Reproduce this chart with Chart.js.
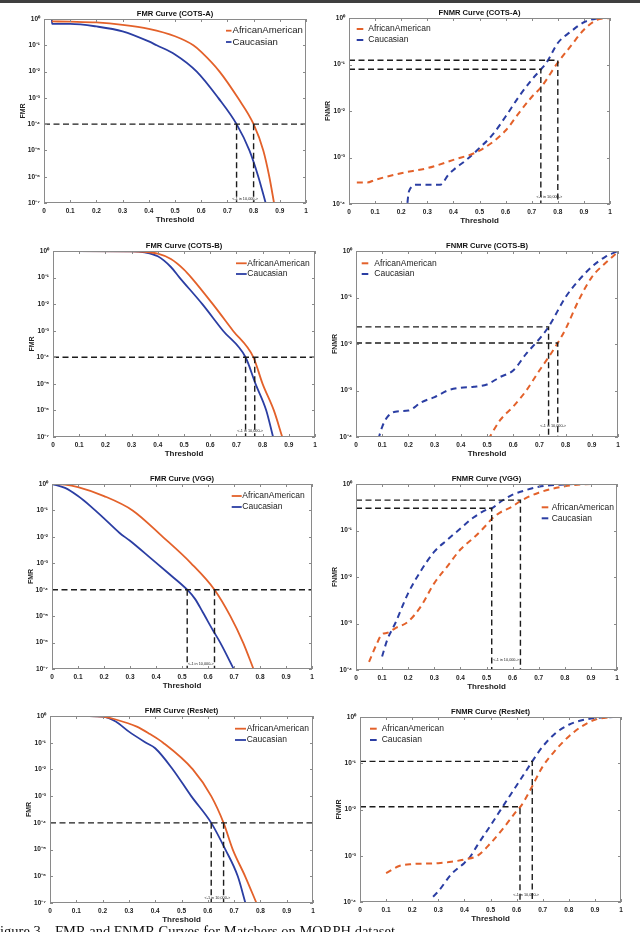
<!DOCTYPE html>
<html>
<head>
<meta charset="utf-8">
<script src="https://cdn.jsdelivr.net/npm/chart.js@4.4.1/dist/chart.umd.min.js"></script>
<style>
  html, body { margin: 0; padding: 0; background: #fff; }
  body { width: 640px; height: 932px; position: relative; overflow: hidden; }
  #topbar { position: absolute; left: 0; top: 0; width: 640px; height: 3px; background: #3f3f3f; }
  canvas { position: absolute; }
  .caption { position: absolute; top: 923px; font-family: "Liberation Serif", "Times New Roman", serif; font-size: 14.5px; line-height: 16px; color: #111; white-space: nowrap; }
</style>
</head>
<body>
<div id="topbar"></div>
<canvas id="c0"></canvas>
<canvas id="c1"></canvas>
<canvas id="c2"></canvas>
<canvas id="c3"></canvas>
<canvas id="c4"></canvas>
<canvas id="c5"></canvas>
<canvas id="c6"></canvas>
<canvas id="c7"></canvas>
<div class="caption" style="left:-8px">Figure 3.</div>
<div class="caption" style="left:55px">FMR and FNMR Curves for Matchers on MORPH dataset</div>
<script>
// ---- data ----
const seriesNames = ["AfricanAmerican", "Caucasian"];
const chartTitles = ["FMR Curve (COTS-A)", "FNMR Curve (COTS-A)", "FMR Curve (COTS-B)", "FNMR Curve (COTS-B)",
  "FMR Curve (VGG)", "FNMR Curve (VGG)", "FMR Curve (ResNet)", "FNMR Curve (ResNet)"];
const xTicks = [0, 0.1, 0.2, 0.3, 0.4, 0.5, 0.6, 0.7, 0.8, 0.9, 1];
const xTickLabels = ["0", "0.1", "0.2", "0.3", "0.4", "0.5", "0.6", "0.7", "0.8", "0.9", "1"];
const fmrTicks = [1e-7, 1e-6, 1e-5, 1e-4, 1e-3, 1e-2, 1e-1, 1];
const fmrTickLabels = ["10⁻⁷", "10⁻⁶", "10⁻⁵", "10⁻⁴", "10⁻³", "10⁻²", "10⁻¹", "10⁰"];
const fnmrTicks = [1e-4, 1e-3, 1e-2, 1e-1, 1];
const fnmrTickLabels = ["10⁻⁴", "10⁻³", "10⁻²", "10⁻¹", "10⁰"];
const fmrTarget = 1e-4;
const opNote = "<-1 in 10,000->";

// COTS-A
const cotsA_fmr_aa_t = [0.03, 0.1, 0.2, 0.3, 0.4, 0.5, 0.57, 0.6, 0.67, 0.74, 0.8, 0.837, 0.86, 0.878];
const cotsA_fmr_aa = [0.81, 0.79, 0.74, 0.6, 0.42, 0.22, 0.1, 0.056, 1e-2, 1e-3, 1e-4, 1e-5, 1e-6, 1e-7];
const cotsA_fmr_ca_t = [0.03, 0.031, 0.1, 0.2, 0.3, 0.4, 0.43, 0.5, 0.583, 0.665, 0.735, 0.784, 0.818, 0.846];
const cotsA_fmr_ca = [1, 0.66, 0.65, 0.52, 0.34, 0.14, 0.1, 0.045, 1e-2, 1e-3, 1e-4, 1e-5, 1e-6, 1e-7];
const cotsA_fmr_op_t = [0.735, 0.80];
const cotsA_fnmr_aa_t = [0.03, 0.07, 0.1, 0.2, 0.3, 0.4, 0.5, 0.6, 0.65, 0.7, 0.735, 0.8, 0.85, 0.9, 0.95, 1.0];
const cotsA_fnmr_aa = [2.9e-4, 2.9e-4, 3.3e-4, 4.6e-4, 5.9e-4, 8.9e-4, 1.4e-3, 3.8e-3, 8.9e-3, 0.02, 0.032, 0.11, 0.25, 0.56, 0.91, 1];
const cotsA_fnmr_ca_t = [0.22, 0.23, 0.26, 0.35, 0.38, 0.4, 0.45, 0.5, 0.55, 0.6, 0.65, 0.7, 0.735, 0.76, 0.8, 0.85, 0.9, 0.95, 0.97];
const cotsA_fnmr_ca = [6.3e-5, 1.9e-4, 2.6e-4, 2.6e-4, 4.2e-4, 5.4e-4, 8.9e-4, 1.6e-3, 3.1e-3, 7.6e-3, 0.02, 0.047, 0.078, 0.117, 0.29, 0.51, 0.81, 0.98, 1];
const cotsA_fnmr_op_t = [0.735, 0.80];
const cotsA_fnmr_op_v = [0.079, 0.123];

// COTS-B
const cotsB_fmr_aa_t = [0.04, 0.3, 0.35, 0.4, 0.45, 0.5, 0.528, 0.61, 0.687, 0.765, 0.80, 0.843, 0.875];
const cotsB_fmr_aa = [1, 0.98, 0.93, 0.79, 0.5, 0.2, 0.1, 1e-2, 1e-3, 1e-4, 1e-5, 1e-6, 1e-7];
const cotsB_fmr_ca_t = [0.04, 0.3, 0.35, 0.4, 0.45, 0.483, 0.57, 0.649, 0.735, 0.773, 0.814, 0.84];
const cotsB_fmr_ca = [1, 0.98, 0.89, 0.63, 0.25, 0.1, 1e-2, 1e-3, 1e-4, 1e-5, 1e-6, 1e-7];
const cotsB_fmr_op_t = [0.735, 0.77];
const cotsB_fnmr_aa_t = [0.505, 0.55, 0.6, 0.65, 0.7, 0.735, 0.77, 0.8, 0.85, 0.9, 0.95, 1.0];
const cotsB_fnmr_aa = [8.9e-5, 2.3e-4, 4.5e-4, 1e-3, 2.7e-3, 5.2e-3, 0.0105, 0.021, 0.087, 0.275, 0.537, 0.955];
const cotsB_fnmr_ca_t = [0.085, 0.1, 0.12, 0.15, 0.2, 0.25, 0.3, 0.35, 0.4, 0.45, 0.5, 0.55, 0.6, 0.65, 0.7, 0.735, 0.8, 0.85, 0.9, 0.95, 1.0];
const cotsB_fnmr_ca = [8.9e-5, 1.66e-4, 2.7e-4, 3.5e-4, 3.7e-4, 5.6e-4, 7.2e-4, 1e-3, 1.15e-3, 1.2e-3, 1.35e-3, 1.95e-3, 2.7e-3, 6.2e-3, 0.0129, 0.0234, 0.102, 0.234, 0.457, 0.741, 1];
const cotsB_fnmr_op_t = [0.735, 0.77];
const cotsB_fnmr_op_v = [0.0234, 0.0105];

// VGG
const vgg_fmr_aa_t = [0, 0.05, 0.1, 0.2, 0.31, 0.426, 0.535, 0.625, 0.686, 0.735, 0.775];
const vgg_fmr_aa = [1, 0.95, 0.76, 0.35, 0.1, 0.01, 1e-3, 1e-4, 1e-5, 1e-6, 1e-7];
const vgg_fmr_ca_t = [0, 0.05, 0.1, 0.15, 0.2, 0.26, 0.3, 0.385, 0.45, 0.52, 0.55, 0.58, 0.62, 0.647, 0.699];
const vgg_fmr_ca = [1, 0.71, 0.35, 0.14, 0.05, 0.014, 7.1e-3, 1.4e-3, 4e-4, 1e-4, 4.5e-5, 1.4e-5, 2.8e-6, 1e-6, 1e-7];
const vgg_fmr_op_t = [0.52, 0.625];
const vgg_fnmr_aa_t = [0.05, 0.08, 0.1, 0.12, 0.15, 0.2, 0.25, 0.3, 0.35, 0.4, 0.45, 0.5, 0.52, 0.55, 0.6, 0.63, 0.7, 0.8, 0.9, 0.95];
const vgg_fnmr_aa = [1.5e-4, 3.7e-4, 5.9e-4, 6.3e-4, 7.9e-4, 1.1e-3, 2.4e-3, 7.4e-3, 0.017, 0.039, 0.069, 0.132, 0.178, 0.24, 0.33, 0.43, 0.65, 0.89, 1, 1];
const vgg_fnmr_ca_t = [0.1, 0.12, 0.15, 0.2, 0.25, 0.3, 0.35, 0.4, 0.45, 0.5, 0.52, 0.55, 0.6, 0.63, 0.7, 0.8, 0.85];
const vgg_fnmr_ca = [1.95e-4, 4.5e-4, 1e-3, 4.5e-3, 0.014, 0.035, 0.063, 0.11, 0.19, 0.28, 0.30, 0.4, 0.59, 0.68, 0.87, 0.98, 1];
const vgg_fnmr_op_t = [0.52, 0.63];
const vgg_fnmr_op_v = [0.30, 0.45];

// ResNet
const res_fmr_aa_t = [0, 0.15, 0.2, 0.25, 0.33, 0.38, 0.43, 0.543, 0.613, 0.66, 0.695, 0.742, 0.785];
const res_fmr_aa = [1, 1, 0.95, 0.74, 0.4, 0.21, 0.1, 0.01, 1e-3, 1e-4, 1e-5, 1e-6, 1e-7];
const res_fmr_ca_t = [0, 0.15, 0.2, 0.25, 0.3, 0.365, 0.4, 0.467, 0.537, 0.613, 0.667, 0.714, 0.743];
const res_fmr_ca = [1, 1, 0.95, 0.62, 0.26, 0.1, 0.062, 0.01, 1e-3, 1e-4, 1e-5, 1e-6, 1e-7];
const res_fmr_op_t = [0.613, 0.66];
const res_fnmr_aa_t = [0.1, 0.15, 0.2, 0.3, 0.35, 0.4, 0.45, 0.5, 0.55, 0.6, 0.615, 0.65, 0.7, 0.75, 0.8, 0.85, 0.9, 0.95, 0.97];
const res_fnmr_aa = [4.2e-4, 6e-4, 6.6e-4, 6.9e-4, 7.4e-4, 8.3e-4, 1e-3, 1.86e-3, 4e-3, 9.3e-3, 0.0115, 0.025, 0.085, 0.195, 0.38, 0.63, 0.87, 0.98, 1];
const res_fnmr_ca_t = [0.28, 0.3, 0.35, 0.4, 0.42, 0.45, 0.5, 0.55, 0.6, 0.65, 0.66, 0.7, 0.75, 0.8, 0.85, 0.9, 0.97];
const res_fnmr_ca = [1.3e-4, 1.7e-4, 4e-4, 7e-4, 9.1e-4, 1.7e-3, 4.5e-3, 0.0123, 0.033, 0.09, 0.11, 0.23, 0.45, 0.68, 0.85, 0.95, 1];
const res_fnmr_op_t = [0.613, 0.66];
const res_fnmr_op_v = [0.0115, 0.11];

// ---- styles / layout ----
const orange = "#E3612A";
const blue = "#2B3EA3";
const refColor = "#1c1c1c";
const boxColor = "#8a8a8a";
const fam = '"Liberation Sans", Arial, sans-serif';

const charts = [
  { id: "c0", box: [44, 19, 306, 203], kind: "fmr", title: chartTitles[0],
    aaT: cotsA_fmr_aa_t, aa: cotsA_fmr_aa, caT: cotsA_fmr_ca_t, ca: cotsA_fmr_ca, opT: cotsA_fmr_op_t,
    legend: { s0: 182, s1: 187.5, tx: 188.5, ty: 11.7, dy: 11.3, size: 9.6 }, noteDy: 4 },
  { id: "c1", box: [349, 18, 610, 204], kind: "fnmr", title: chartTitles[1],
    aaT: cotsA_fnmr_aa_t, aa: cotsA_fnmr_aa, caT: cotsA_fnmr_ca_t, ca: cotsA_fnmr_ca, opT: cotsA_fnmr_op_t, opV: cotsA_fnmr_op_v,
    legend: { s0: 7.7, s1: 14.3, tx: 19.3, ty: 11, dy: 11, size: 8.5 }, noteDy: 7 },
  { id: "c2", box: [53, 251, 315, 437], kind: "fmr", title: chartTitles[2],
    aaT: cotsB_fmr_aa_t, aa: cotsB_fmr_aa, caT: cotsB_fmr_ca_t, ca: cotsB_fmr_ca, opT: cotsB_fmr_op_t,
    legend: { s0: 183, s1: 193.7, tx: 194.3, ty: 12.3, dy: 10.7, size: 8.5 }, noteDy: 6 },
  { id: "c3", box: [356, 251, 618, 437], kind: "fnmr", title: chartTitles[3],
    aaT: cotsB_fnmr_aa_t, aa: cotsB_fnmr_aa, caT: cotsB_fnmr_ca_t, ca: cotsB_fnmr_ca, opT: cotsB_fnmr_op_t, opV: cotsB_fnmr_op_v,
    legend: { s0: 5.7, s1: 12.3, tx: 18.3, ty: 12.3, dy: 10.7, size: 8.5 }, noteDy: 11 },
  { id: "c4", box: [52, 484, 312, 669], kind: "fmr", title: chartTitles[4],
    aaT: vgg_fmr_aa_t, aa: vgg_fmr_aa, caT: vgg_fmr_ca_t, ca: vgg_fmr_ca, opT: vgg_fmr_op_t,
    legend: { s0: 179.7, s1: 189.7, tx: 190.3, ty: 12, dy: 11, size: 8.5 }, noteDy: 5 },
  { id: "c5", box: [356, 484, 617, 670], kind: "fnmr", title: chartTitles[5],
    aaT: vgg_fnmr_aa_t, aa: vgg_fnmr_aa, caT: vgg_fnmr_ca_t, ca: vgg_fnmr_ca, opT: vgg_fnmr_op_t, opV: vgg_fnmr_op_v,
    legend: { s0: 185.7, s1: 192.3, tx: 195.7, ty: 23.3, dy: 11, size: 8.5 }, noteDy: 10 },
  { id: "c6", box: [50, 716, 313, 903], kind: "fmr", title: chartTitles[6],
    aaT: res_fmr_aa_t, aa: res_fmr_aa, caT: res_fmr_ca_t, ca: res_fmr_ca, opT: res_fmr_op_t,
    legend: { s0: 185, s1: 196, tx: 196.7, ty: 12.7, dy: 11.3, size: 8.5 }, noteDy: 5 },
  { id: "c7", box: [360, 717, 621, 902], kind: "fnmr", title: chartTitles[7],
    aaT: res_fnmr_aa_t, aa: res_fnmr_aa, caT: res_fnmr_ca_t, ca: res_fnmr_ca, opT: res_fnmr_op_t, opV: res_fnmr_op_v,
    legend: { s0: 10, s1: 16.7, tx: 21.7, ty: 11.7, dy: 11.3, size: 8.5 }, noteDy: 7 },
];

const padL = 46, padT = 16, padR = 10, padB = 30;
const pts = (ts, vs) => ts.map((t, i) => ({ x: t, y: vs[i] }));

function makeChart(c) {
  const [L, T, R, B] = c.box;
  const fmr = c.kind === "fmr";
  const yMin = fmr ? 1e-7 : 1e-4;
  const yTicks = fmr ? fmrTicks : fnmrTicks;
  const yLabels = fmr ? fmrTickLabels : fnmrTickLabels;
  const lineW = fmr ? 1.8 : 2;

  const canvas = document.getElementById(c.id);
  const w = R - L + padL + padR, h = B - T + padT + padB;
  canvas.width = w;
  canvas.height = h;
  canvas.style.left = (L - padL) + "px";
  canvas.style.top = (T - padT) + "px";
  canvas.style.width = w + "px";
  canvas.style.height = h + "px";

  const curve = (label, data, color) => ({
    label, data, borderColor: color, borderWidth: lineW,
    borderDash: fmr ? [] : [6, 4.5], pointRadius: 0, fill: false,
    cubicInterpolationMode: "monotone", order: 1,
  });
  const ref = (data) => ({
    label: "", data, borderColor: refColor, borderWidth: 1.4, borderDash: [6, 3.5],
    pointRadius: 0, fill: false, tension: 0, order: 0,
  });

  const datasets = [
    curve(seriesNames[0], pts(c.aaT, c.aa), orange),
    curve(seriesNames[1], pts(c.caT, c.ca), blue),
  ];
  if (fmr) {
    datasets.push(ref([{ x: 0, y: fmrTarget }, { x: 1, y: fmrTarget }]));
    c.opT.forEach((t) => datasets.push(ref([{ x: t, y: fmrTarget }, { x: t, y: yMin }])));
  } else {
    c.opT.forEach((t, i) =>
      datasets.push(ref([{ x: 0, y: c.opV[i] }, { x: t, y: c.opV[i] }, { x: t, y: yMin }]))
    );
  }

  // box, inward ticks, title, legend and the small note
  const frame = {
    id: "frame_" + c.id,
    afterDraw(chart) {
      const { ctx, chartArea: a, scales } = chart;
      const x = scales.x, y = scales.y;
      ctx.save();
      ctx.strokeStyle = boxColor;
      ctx.lineWidth = 1;
      ctx.beginPath();
      xTicks.forEach((v) => {
        const px = Math.round(x.getPixelForValue(v)) + 0.5;
        ctx.moveTo(px, a.bottom); ctx.lineTo(px, a.bottom - 3);
        ctx.moveTo(px, a.top); ctx.lineTo(px, a.top + 3);
      });
      yTicks.forEach((v) => {
        const py = Math.round(y.getPixelForValue(v)) + 0.5;
        ctx.moveTo(a.left, py); ctx.lineTo(a.left + 3, py);
        ctx.moveTo(a.right, py); ctx.lineTo(a.right - 3, py);
      });
      ctx.stroke();
      ctx.strokeRect(a.left + 0.5, a.top + 0.5, a.right - a.left - 1, a.bottom - a.top - 1);

      // title
      ctx.fillStyle = "#111";
      ctx.font = "bold 7.6px " + fam;
      ctx.textAlign = "center";
      ctx.textBaseline = "middle";
      ctx.fillText(c.title, (a.left + a.right) / 2, a.top - 5);

      // legend
      const lg = c.legend;
      ctx.font = lg.size + "px " + fam;
      ctx.textAlign = "left";
      [orange, blue].forEach((col, i) => {
        const ly = a.top + lg.ty + i * lg.dy;
        ctx.strokeStyle = col;
        ctx.lineWidth = lineW;
        ctx.beginPath();
        ctx.moveTo(a.left + lg.s0, ly);
        ctx.lineTo(a.left + lg.s1, ly);
        ctx.stroke();
        ctx.fillStyle = "#222";
        ctx.fillText(chart.data.datasets[i].label, a.left + lg.tx, ly);
      });

      // "<-1 in 10,000->" between the two threshold lines
      const x0 = x.getPixelForValue(c.opT[0]), x1 = x.getPixelForValue(c.opT[1]);
      ctx.font = "3.8px " + fam;
      ctx.textAlign = "center";
      ctx.fillStyle = "#222";
      ctx.fillText(opNote, (x0 + x1) / 2, a.bottom - c.noteDy);
      ctx.restore();
    },
  };

  return new Chart(canvas, {
    type: "line",
    data: { datasets },
    options: {
      responsive: false,
      animation: false,
      devicePixelRatio: 1,
      layout: { padding: { left: 0, top: padT, right: padR, bottom: 0 } },
      plugins: { legend: { display: false }, tooltip: { enabled: false } },
      scales: {
        x: {
          type: "linear", min: 0, max: 1,
          afterBuildTicks: (s) => { s.ticks = xTicks.map((v) => ({ value: v })); },
          afterFit: (s) => { s.height = padB; s.paddingLeft = 0; s.paddingRight = 0; },
          grid: { display: false, drawTicks: false },
          border: { display: false },
          ticks: {
            autoSkip: false, maxRotation: 0, padding: 4, color: "#222",
            font: { family: fam, size: 6.5, weight: "bold" },
            callback: (v, i) => xTickLabels[i],
          },
          title: { display: true, text: "Threshold", color: "#222",
            font: { family: fam, size: 8, weight: "bold" }, padding: { top: 0, bottom: 8.5 } },
        },
        y: {
          type: "logarithmic", min: yMin, max: 1,
          afterBuildTicks: (s) => { s.ticks = yTicks.map((v) => ({ value: v })); },
          afterFit: (s) => { s.width = padL; s.paddingTop = 0; s.paddingBottom = 0; },
          grid: { display: false, drawTicks: false },
          border: { display: false },
          ticks: {
            autoSkip: false, padding: 4, color: "#222",
            font: { family: fam, size: 6.5, weight: "bold" },
            callback: (v, i) => yLabels[i],
          },
          title: { display: true, text: fmr ? "FMR" : "FNMR", color: "#222",
            font: { family: fam, size: 7, weight: "bold" }, padding: { top: 21, bottom: 0 } },
        },
      },
    },
    plugins: [frame],
  });
}

charts.forEach(makeChart);
</script>
</body>
</html>
